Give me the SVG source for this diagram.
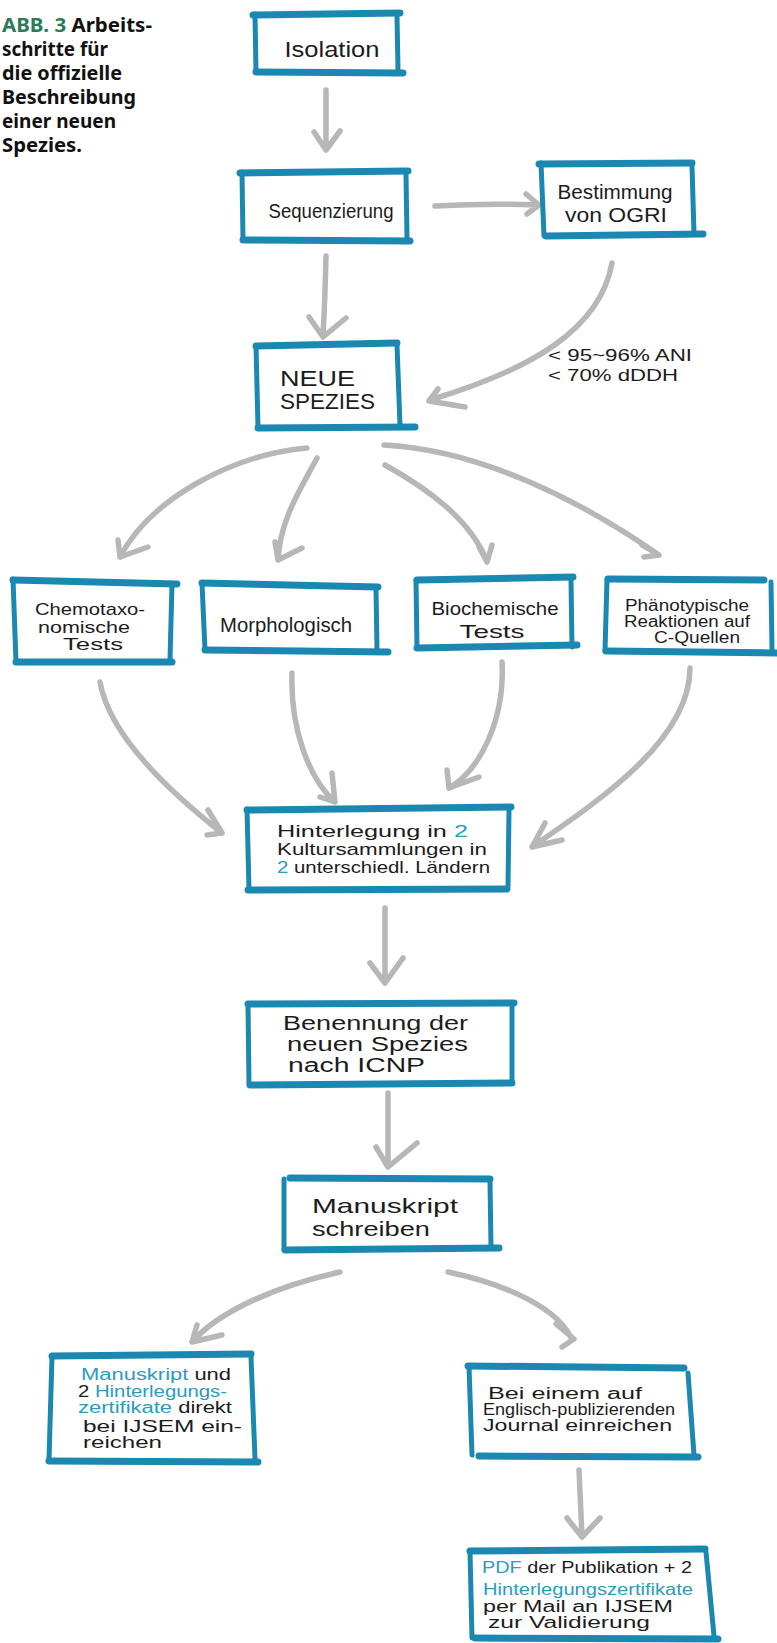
<svg xmlns="http://www.w3.org/2000/svg" width="777" height="1643" viewBox="0 0 777 1643">
<style>
.bx path{fill:none;stroke:#1b88b1;stroke-linecap:round;stroke-linejoin:round}
.bx .h{stroke-width:7}
.bx .v{stroke-width:5}
.t{font-family:"Liberation Sans",Arial,sans-serif;fill:#1c1c1c}
.b{fill:#2a9cc0}
.ttl{font-family:"Noto Sans","Liberation Sans",sans-serif;font-weight:bold;font-size:20px;fill:#111}
.g{fill:#2b7b57}
.cn path{fill:none;stroke:#b7b7b7;stroke-width:5.5;stroke-linecap:round;stroke-linejoin:round}
</style>
<rect width="777" height="1643" fill="#fff"/>
<g id="title">
<text class="ttl" x="2" y="32" textLength="150" lengthAdjust="spacingAndGlyphs"><tspan class="g">ABB. 3</tspan>  Arbeits-</text>
<text class="ttl" x="2" y="56" textLength="106" lengthAdjust="spacingAndGlyphs">schritte für</text>
<text class="ttl" x="2" y="80" textLength="120" lengthAdjust="spacingAndGlyphs">die offizielle</text>
<text class="ttl" x="2" y="104" textLength="134" lengthAdjust="spacingAndGlyphs">Beschreibung</text>
<text class="ttl" x="2" y="128" textLength="114" lengthAdjust="spacingAndGlyphs">einer neuen</text>
<text class="ttl" x="2" y="152" textLength="80" lengthAdjust="spacingAndGlyphs">Spezies.</text>
</g>
<g id="connectors" class="cn">
<path d="M326 90 L326 150 M314 132 L326 150 L340 131"/>
<path d="M435 206 Q490 203 538 205 M526 194 L539 205 L527 214"/>
<path d="M326 256 Q325 300 323 336 M309 317 L323 337 L346 318"/>
<path d="M612 263 C600 330 530 370 430 400 M438 389 L429 401 L465 407"/>
<path d="M307 448 C230 455 150 500 120 557 M118 540 L120 557 L148 547"/>
<path d="M317 458 C300 490 280 520 278 560 M275 542 L278 560 L302 548"/>
<path d="M385 465 C430 490 470 520 487 561 M479 547 L487 562 L492 545"/>
<path d="M384 445 C480 450 580 500 659 555 M642 545 L659 555 L644 557"/>
<path d="M100 682 C110 740 180 800 222 833 M208 810 L222 833 L207 835"/>
<path d="M292 673 C290 730 310 780 335 802 M332 773 L335 802 L320 797"/>
<path d="M502 662 C505 720 480 770 449 788 M447 770 L449 788 L479 777"/>
<path d="M690 668 C690 740 600 800 532 847 M545 823 L532 847 L562 840"/>
<path d="M385 908 L385 983 M370 963 L385 983 L403 958"/>
<path d="M388 1093 L388 1167 M376 1147 L388 1167 L417 1143"/>
<path d="M340 1272 C280 1285 220 1310 192 1342 M197 1325 L192 1342 L222 1335"/>
<path d="M448 1272 C510 1285 560 1310 572 1340 M556 1324 L574 1339 L562 1347"/>
<path d="M579 1470 L582 1537 M567 1518 L582 1537 L600 1518"/>
</g>
<g id="isolation" class="bx">
<path class="h" d="M253 15 L400 13"/><path class="v" d="M397 16 L398 70"/><path class="h" d="M256 72 L403 73"/><path class="v" d="M255 14 L256 72"/>
<text class="t" x="332" y="57" font-size="22" text-anchor="middle" textLength="95" lengthAdjust="spacingAndGlyphs">Isolation</text>
</g>
<g id="sequenzierung" class="bx">
<path class="h" d="M240 173 L408 171"/><path class="v" d="M406 175 L407 238"/><path class="h" d="M243 240 L410 241"/><path class="v" d="M242 172 L243 240"/>
<text class="t" x="331" y="218" font-size="21" text-anchor="middle" textLength="125" lengthAdjust="spacingAndGlyphs">Sequenzierung</text>
</g>
<g id="bestimmung" class="bx">
<path class="h" d="M539 164 L692 163"/><path class="v" d="M692 166 L694 234"/><path class="h" d="M546 236 L703 234"/><path class="v" d="M541 163 L544 236"/>
<text class="t" x="615" y="199" font-size="20" text-anchor="middle" textLength="115" lengthAdjust="spacingAndGlyphs">Bestimmung</text>
<text class="t" x="616" y="222" font-size="20" text-anchor="middle" textLength="102" lengthAdjust="spacingAndGlyphs">von OGRI</text>
</g>
<g id="neue-spezies" class="bx">
<path class="h" d="M256 346 L397 343"/><path class="v" d="M397 345 L400 425"/><path class="h" d="M258 428 L415 427"/><path class="v" d="M256 346 L258 428"/>
<text class="t" x="280" y="386" font-size="22" textLength="75" lengthAdjust="spacingAndGlyphs">NEUE</text>
<text class="t" x="280" y="409" font-size="22" textLength="95" lengthAdjust="spacingAndGlyphs">SPEZIES</text>
</g>
<g id="label-ani">
<text class="t" x="548" y="361" font-size="17" textLength="144" lengthAdjust="spacingAndGlyphs">&lt; 95~96% ANI</text>
<text class="t" x="548" y="381" font-size="17" textLength="130" lengthAdjust="spacingAndGlyphs">&lt; 70% dDDH</text>
</g>
<g id="chemotaxonomische" class="bx">
<path class="h" d="M13 580 L177 584"/><path class="v" d="M172 584 L170 660"/><path class="h" d="M16 662 L172 662"/><path class="v" d="M13 579 L16 662"/>
<text class="t" x="90" y="615" font-size="17" text-anchor="middle" textLength="110" lengthAdjust="spacingAndGlyphs">Chemotaxo-</text>
<text class="t" x="84" y="633" font-size="17" text-anchor="middle" textLength="92" lengthAdjust="spacingAndGlyphs">nomische</text>
<text class="t" x="93" y="650" font-size="17" text-anchor="middle" textLength="60" lengthAdjust="spacingAndGlyphs">Tests</text>
</g>
<g id="morphologisch" class="bx">
<path class="h" d="M202 583 L378 587"/><path class="v" d="M376 588 L377 650"/><path class="h" d="M205 650 L388 652"/><path class="v" d="M202 583 L205 650"/>
<text class="t" x="286" y="632" font-size="20" text-anchor="middle" textLength="132" lengthAdjust="spacingAndGlyphs">Morphologisch</text>
</g>
<g id="biochemische" class="bx">
<path class="h" d="M417 580 L573 577"/><path class="v" d="M571 580 L572 647"/><path class="h" d="M417 648 L577 645"/><path class="v" d="M416 580 L417 648"/>
<text class="t" x="495" y="615" font-size="19" text-anchor="middle" textLength="127" lengthAdjust="spacingAndGlyphs">Biochemische</text>
<text class="t" x="492" y="638" font-size="19" text-anchor="middle" textLength="65" lengthAdjust="spacingAndGlyphs">Tests</text>
</g>
<g id="phaenotypische" class="bx">
<path class="h" d="M608 579 L764 580"/><path class="v" d="M771 582 L772 650"/><path class="h" d="M606 651 L776 653"/><path class="v" d="M607 579 L605 651"/>
<text class="t" x="687" y="611" font-size="16" text-anchor="middle" textLength="124" lengthAdjust="spacingAndGlyphs">Phänotypische</text>
<text class="t" x="687" y="627" font-size="16" text-anchor="middle" textLength="126" lengthAdjust="spacingAndGlyphs">Reaktionen auf</text>
<text class="t" x="697" y="643" font-size="16" text-anchor="middle" textLength="86" lengthAdjust="spacingAndGlyphs">C-Quellen</text>
</g>
<g id="hinterlegung" class="bx">
<path class="h" d="M247 810 L511 807"/><path class="v" d="M509 810 L508 887"/><path class="h" d="M248 890 L507 889"/><path class="v" d="M247 809 L249 890"/>
<text class="t" x="277" y="837" font-size="17" textLength="191" lengthAdjust="spacingAndGlyphs">Hinterlegung in <tspan class="b">2</tspan></text>
<text class="t" x="277" y="855" font-size="17" textLength="210" lengthAdjust="spacingAndGlyphs">Kultursammlungen in</text>
<text class="t" x="277" y="873" font-size="17" textLength="213" lengthAdjust="spacingAndGlyphs"><tspan class="b">2</tspan>  unterschiedl. Ländern</text>
</g>
<g id="benennung" class="bx">
<path class="h" d="M248 1004 L514 1003"/><path class="v" d="M512 1006 L512 1082"/><path class="h" d="M250 1085 L512 1083"/><path class="v" d="M248 1004 L249 1084"/>
<text class="t" x="283" y="1030" font-size="20" textLength="185" lengthAdjust="spacingAndGlyphs">Benennung der</text>
<text class="t" x="287" y="1051" font-size="20" textLength="181" lengthAdjust="spacingAndGlyphs">neuen Spezies</text>
<text class="t" x="288" y="1072" font-size="20" textLength="137" lengthAdjust="spacingAndGlyphs">nach ICNP</text>
</g>
<g id="manuskript" class="bx">
<path class="h" d="M290 1178 L490 1179"/><path class="v" d="M490 1181 L491 1247"/><path class="h" d="M285 1250 L499 1248"/><path class="v" d="M284 1179 L284 1250"/>
<text class="t" x="312" y="1213" font-size="21" textLength="146" lengthAdjust="spacingAndGlyphs">Manuskript</text>
<text class="t" x="312" y="1236" font-size="21" textLength="118" lengthAdjust="spacingAndGlyphs">schreiben</text>
</g>
<g id="direkt-einreichen" class="bx">
<path class="h" d="M52 1356 L251 1354"/><path class="v" d="M251 1357 L255 1459"/><path class="h" d="M49 1461 L258 1462"/><path class="v" d="M52 1356 L49 1460"/>
<text class="t" x="81" y="1380" font-size="16" textLength="150" lengthAdjust="spacingAndGlyphs"><tspan class="b">Manuskript</tspan> und</text>
<text class="t" x="78" y="1397" font-size="16" textLength="149" lengthAdjust="spacingAndGlyphs">2 <tspan class="b">Hinterlegungs-</tspan></text>
<text class="t" x="78" y="1413" font-size="16" textLength="154" lengthAdjust="spacingAndGlyphs"><tspan class="b">zertifikate</tspan> direkt</text>
<text class="t" x="83" y="1432" font-size="16" textLength="159" lengthAdjust="spacingAndGlyphs">bei IJSEM ein-</text>
<text class="t" x="83" y="1448" font-size="16" textLength="79" lengthAdjust="spacingAndGlyphs">reichen</text>
</g>
<g id="journal-einreichen" class="bx">
<path class="h" d="M468 1366 L684 1368"/><path class="v" d="M688 1373 L694 1455"/><path class="h" d="M479 1456 L698 1457"/><path class="v" d="M469 1366 L472 1455"/>
<text class="t" x="488" y="1399" font-size="16" textLength="154" lengthAdjust="spacingAndGlyphs">Bei einem auf</text>
<text class="t" x="483" y="1415" font-size="16" textLength="192" lengthAdjust="spacingAndGlyphs">Englisch-publizierenden</text>
<text class="t" x="483" y="1431" font-size="16" textLength="189" lengthAdjust="spacingAndGlyphs">Journal einreichen</text>
</g>
<g id="pdf-validierung" class="bx">
<path class="h" d="M470 1551 L705 1549"/><path class="v" d="M706 1552 L714 1636"/><path class="h" d="M475 1638 L718 1639"/><path class="v" d="M470 1551 L472 1638"/>
<text class="t" x="482" y="1573" font-size="16" textLength="210" lengthAdjust="spacingAndGlyphs"><tspan class="b">PDF</tspan> der Publikation + 2</text>
<text class="t b" x="483" y="1595" font-size="16" textLength="210" lengthAdjust="spacingAndGlyphs">Hinterlegungszertifikate</text>
<text class="t" x="483" y="1612" font-size="16" textLength="190" lengthAdjust="spacingAndGlyphs">per Mail an IJSEM</text>
<text class="t" x="488" y="1628" font-size="16" textLength="162" lengthAdjust="spacingAndGlyphs">zur Validierung</text>
</g>
</svg>
